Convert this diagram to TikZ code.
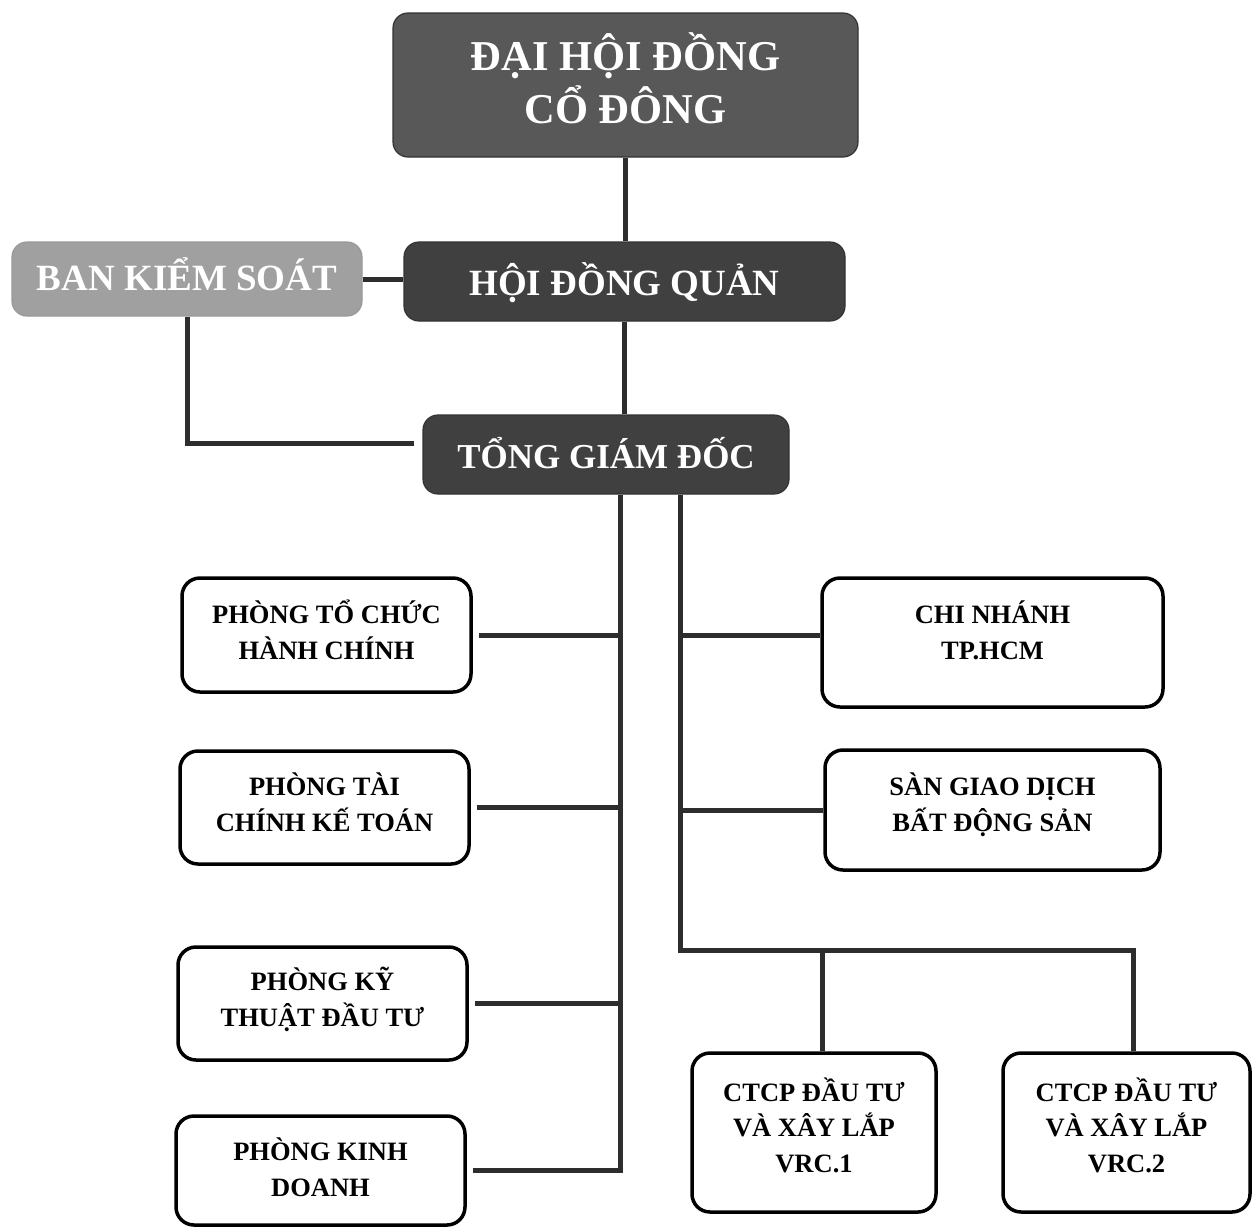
\documentclass[tikz,border=0pt]{standalone}
\usepackage{fontspec}
\setmainfont{Liberation Serif}
\usepackage{tikz}

\definecolor{boxdark}{RGB}{64,64,64}
\definecolor{boxmid}{RGB}{88,88,88}
\definecolor{boxlight}{RGB}{160,160,160}
\definecolor{linkgray}{RGB}{45,45,45}

\tikzset{
  headbox/.style={draw=black!80, line width=1.2pt, rounded corners=15pt, fill=boxdark,
    text=white, font=\bfseries\fontsize{37}{40}\selectfont, align=center, inner sep=0pt,
    text height=27pt, text depth=0pt},
  unitbox/.style={draw=black, line width=3.5pt, rounded corners=18pt, fill=white,
    font=\bfseries\fontsize{26.5}{35.5}\selectfont, align=center, inner sep=0pt,
    text height=47pt, text depth=0pt},
  link/.style={draw=linkgray, line width=5pt},
}

\begin{document}
\begin{tikzpicture}[x=1pt,y=-1pt]
\useasboundingbox (0,0) rectangle (1256,1227);

%Shape: top boxes
\node [headbox, fill=boxmid, minimum width=465, minimum height=144, text height=76pt,
  font=\bfseries\fontsize{42.5}{53}\selectfont] (dhd) at (625.5,85) {ĐẠI HỘI ĐỒNG\\CỔ ĐÔNG};
\node [headbox, fill=boxlight, draw=black!40, minimum width=350, minimum height=74,
  text height=22pt] (bks) at (187,279) {BAN KIỂM SOÁT};
\node [headbox, minimum width=441, minimum height=79] (hdq) at (624.5,281.5) {HỘI ĐỒNG QUẢN};
\node [headbox, minimum width=366, minimum height=79,
  font=\bfseries\fontsize{35}{40}\selectfont] (tgd) at (606,454.5) {TỔNG GIÁM ĐỐC};

%Shape: left units
\node [unitbox, minimum width=289, minimum height=114, text height=48pt] (ptc) at (326.5,635) {PHÒNG TỔ CHỨC\\HÀNH CHÍNH};
\node [unitbox, minimum width=289, minimum height=113] (ptk) at (324.5,807.5) {PHÒNG TÀI\\CHÍNH KẾ TOÁN};
\node [unitbox, minimum width=289, minimum height=113, text height=45pt] (pkt) at (322.5,1003.5) {PHÒNG KỸ\\THUẬT ĐẦU TƯ};
\node [unitbox, minimum width=289, minimum height=109, text height=51pt] (pkd) at (320.5,1170.5) {PHÒNG KINH\\DOANH};

%Shape: right units
\node [unitbox, minimum width=341, minimum height=129, text height=33pt] (cn) at (992.5,642.5) {CHI NHÁNH\\TP.HCM};
\node [unitbox, minimum width=335, minimum height=120, text height=42pt] (sgd) at (992.5,810) {SÀN GIAO DỊCH\\BẤT ĐỘNG SẢN};
\node [unitbox, minimum width=244, minimum height=159, text height=79pt] (vrc1) at (814,1132.5) {CTCP ĐẦU TƯ\\VÀ XÂY LẮP\\VRC.1};
\node [unitbox, minimum width=247, minimum height=159, text height=79pt] (vrc2) at (1126.5,1132.5) {CTCP ĐẦU TƯ\\VÀ XÂY LẮP\\VRC.2};

%Straight Lines: top
\draw [link] (dhd.south) -- (dhd.south |- hdq.north);
\draw [link] (bks.east) -- (bks.east -| hdq.west);
\draw [link] (hdq.south) -- (hdq.south |- tgd.north);
\draw [link, shorten >=8pt] (bks.south) |- ([yshift=11pt]tgd.west);

%Straight Lines: left trunk
\coordinate (tl) at ([xshift=14pt]tgd.south);
\draw [link] (tl) -- (tl |- pkd.east) -- ([xshift=6pt]pkd.east);
\foreach \u in {ptc,ptk,pkt}
  \draw [link] ([xshift=6pt]\u.east) -- (\u.east -| tl);

%Straight Lines: right trunk
\coordinate (tr) at ([xshift=74pt]tgd.south);
\coordinate (bus) at (680,950);
\coordinate (b1) at (822,950);
\coordinate (b2) at (1133,950);
\draw [link] (tr) -- (bus) -- (b2) -- (b2 |- vrc2.north);
\draw [link] (b1) -- (b1 |- vrc1.north);
\draw [link] ([yshift=7pt]cn.west -| tr) -- ([yshift=7pt]cn.west);
\draw [link] (sgd.west -| tr) -- (sgd.west);

\end{tikzpicture}
\end{document}
